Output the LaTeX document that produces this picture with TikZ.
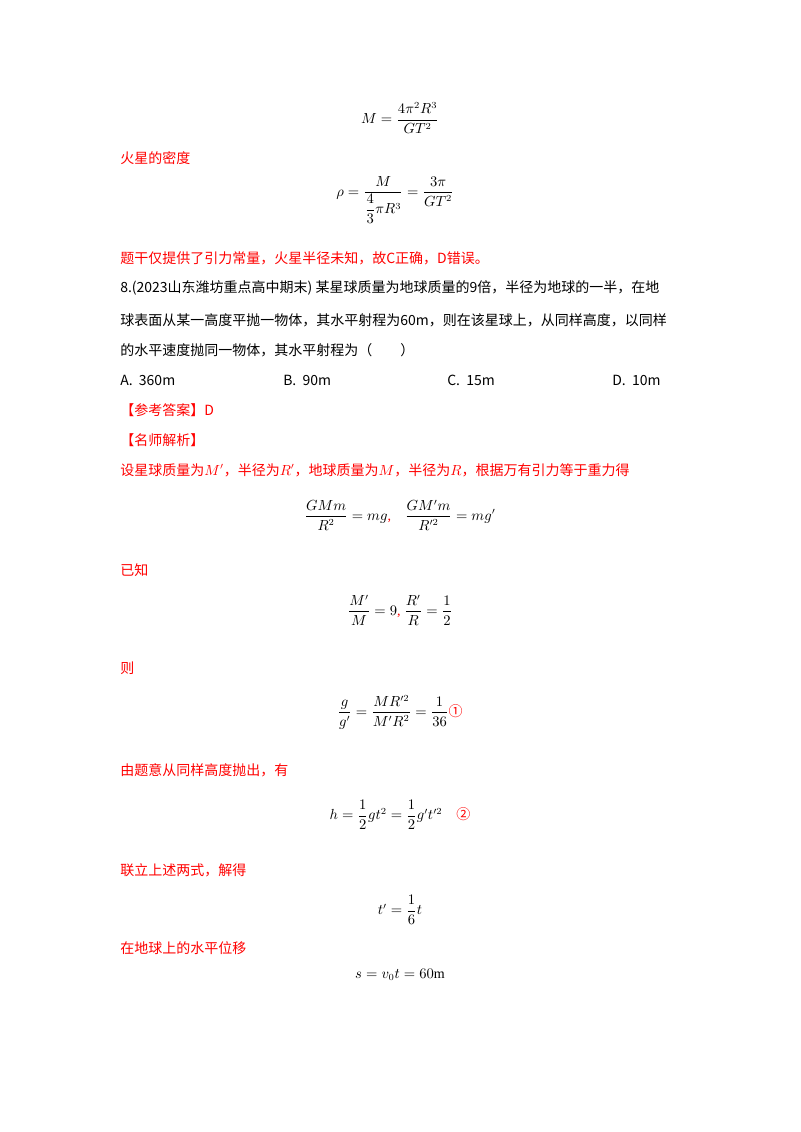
\documentclass[tikz,border=0pt]{standalone}
\usepackage{amsmath}
\usepackage{fontspec}
\setmainfont{Liberation Serif}
\newfontfamily\cjk{Noto Sans CJK SC}
\begin{document}
\begin{tikzpicture}[x=0.75pt,y=-0.75pt,
  t/.style={anchor=west,inner sep=0,font=\cjk\fontsize{10.5}{12}\selectfont},
  r/.style={t,text=red},
  m/.style={inner sep=0,font=\fontsize{10.5}{12}\selectfont}]
\useasboundingbox (0,0) rectangle (800,1132);
\node[m] (e1) at (400,118) {$M=\dfrac{4\pi^2R^3}{GT^2}$};
\node[r] (l1) at (120,158) {火星的密度};
\node[m] (e2) at (395,200) {$\rho=\dfrac{M}{\dfrac{4}{3}\pi R^3}=\dfrac{3\pi}{GT^2}$};
\node[r] (l2) at (120,258) {题干仅提供了引力常量，火星半径未知，故C正确，D错误。};
\node[t] (q1) at (120,288) {8.(2023山东潍坊重点高中期末) 某星球质量为地球质量的9倍，半径为地球的一半，在地};
\node[t] (q2) at (120,320) {球表面从某一高度平抛一物体，其水平射程为60m，则在该星球上，从同样高度，以同样};
\node[t] (q3) at (120,350) {的水平速度抛同一物体，其水平射程为（　　）};
\node[t] (oa) at (120,380) {A.\ \ 360m};
\node[t] (ob) at (283,380) {B.\ \ 90m};
\node[t] (oc) at (447,380) {C.\ \ 15m};
\node[t] (od) at (612,380) {D.\ \ 10m};
\node[r] (ans) at (120,410) {【参考答案】D};
\node[r] (jx) at (120,440) {【名师解析】};
\node[r] (l3) at (120,470) {设星球质量为$M'$，半径为$R'$，地球质量为$M$，半径为$R$，根据万有引力等于重力得};
\node[m] (e3) at (400,515) {$\dfrac{GMm}{R^2}=mg$\textcolor{red}{,}\quad$\dfrac{GM'm}{R'^2}=mg'$};
\node[r] (l4) at (120,570) {已知};
\node[m] (e4) at (400,610) {$\dfrac{M'}{M}=9$\textcolor{red}{,}\ $\dfrac{R'}{R}=\dfrac{1}{2}$};
\node[r] (l5) at (120,668) {则};
\node[m] (e5) at (400,712) {$\dfrac{g}{g'}=\dfrac{MR'^2}{M'R^2}=\dfrac{1}{36}$\textcolor{red}{\cjk ①}};
\node[r] (l6) at (120,770) {由题意从同样高度抛出，有};
\node[m] (e6) at (400,815) {$h=\dfrac{1}{2}gt^2=\dfrac{1}{2}g't'^2$\quad\textcolor{red}{\cjk ②}};
\node[r] (l7) at (120,870) {联立上述两式，解得};
\node[m] (e7) at (400,910) {$t'=\dfrac{1}{6}t$};
\node[r] (l8) at (120,948) {在地球上的水平位移};
\node[m] (e8) at (400,975) {$s=v_0t=60\mathrm{m}$};
\end{tikzpicture}
\end{document}
